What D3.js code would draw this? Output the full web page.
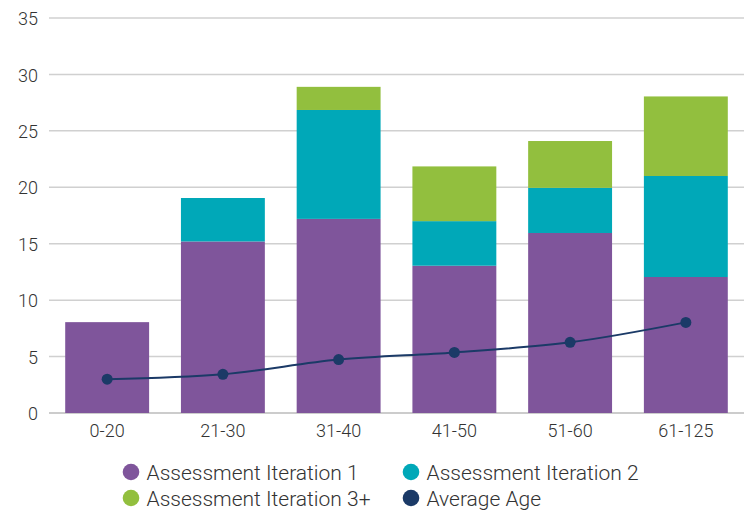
<!DOCTYPE html>
<meta charset="utf-8">
<style>
body { margin: 0; background: #fff; }
text { font-family: Roboto, sans-serif; font-weight: 300; fill: #333; }
.grid line { stroke: #d0d0d0; stroke-width: 1.5px; }
</style>
<body>
<svg width="753" height="511"></svg>
<script src="https://d3js.org/d3.v7.min.js"></script>
<script>

// data
var groups = ["0-20", "21-30", "31-40", "41-50", "51-60", "61-125"];
var iter1 = [8.05, 15.2, 17.2, 13.05, 15.95, 12.05];
var iter2 = [0, 3.85, 9.65, 3.95, 4.0, 8.95];
var iter3 = [0, 0, 2.05, 4.85, 4.15, 7.05];
var avgAge = [3.0, 3.43, 4.73, 5.37, 6.26, 8.03];
var seriesNames = ["Assessment Iteration 1", "Assessment Iteration 2", "Assessment Iteration 3+", "Average Age"];
var colors = ["#7f559b", "#00a8b8", "#92bf3e", "#1b3a67"];

var svg = d3.select("svg");

var x = d3.scaleBand().domain(groups).range([49, 744]).paddingInner(0.275).paddingOuter(0.14);
var y = d3.scaleLinear().domain([0, 35]).range([413, 18]);

// gridlines
svg.append("g").attr("class", "grid")
  .selectAll("line").data(y.ticks(7))
  .enter().append("line")
    .attr("x1", 49).attr("x2", 744)
    .attr("y1", d => y(d)).attr("y2", d => y(d))
    .style("stroke", d => d == 0 ? "#bbb" : null);

// y labels
svg.append("g").selectAll("text").data(y.ticks(7))
  .enter().append("text")
    .attr("x", 38).attr("y", d => y(d)).attr("dy", "0.4em")
    .attr("text-anchor", "end").style("font-size", "18px")
    .text(d => d);

// x labels
svg.append("g").selectAll("text").data(groups)
  .enter().append("text")
    .attr("x", d => x(d) + x.bandwidth() / 2).attr("y", 437)
    .attr("text-anchor", "middle").style("font-size", "18px")
    .text(d => d);

// stacked bars
var rows = groups.map((g, i) => ({group: g, a: iter1[i], b: iter2[i], c: iter3[i]}));
var stack = d3.stack().keys(["a", "b", "c"])(rows);

svg.append("g").selectAll("g").data(stack)
  .enter().append("g").attr("fill", (d, i) => colors[i])
  .selectAll("rect").data(d => d)
  .enter().append("rect")
    .attr("x", d => x(d.data.group))
    .attr("width", x.bandwidth())
    .attr("y", d => y(d[1]))
    .attr("height", d => y(d[0]) - y(d[1]));

// average age line
var line = d3.line()
  .x((d, i) => x(groups[i]) + x.bandwidth() / 2)
  .y(d => y(d))
  .curve(d3.curveMonotoneX);

svg.append("path").datum(avgAge)
  .attr("d", line).attr("fill", "none")
  .attr("stroke", colors[3]).attr("stroke-width", 2);

svg.append("g").selectAll("circle").data(avgAge)
  .enter().append("circle")
    .attr("cx", (d, i) => x(groups[i]) + x.bandwidth() / 2)
    .attr("cy", d => y(d)).attr("r", 5.5)
    .attr("fill", colors[3]);

// legend
var legPos = [[131, 480], [411, 480], [131, 498], [411, 498]];
legPos[2][1] = 506; legPos[3][1] = 506;
var leg = svg.append("g").selectAll("g").data(seriesNames)
  .enter().append("g")
    .attr("transform", (d, i) => "translate(" + legPos[i][0] + "," + legPos[i][1] + ")");
leg.append("circle").attr("cy", -8).attr("r", 8.3).attr("fill", (d, i) => colors[i]);
leg.append("text").attr("x", 15.5)
  .style("font-size", "21px").text(d => d);

</script>
</body>
